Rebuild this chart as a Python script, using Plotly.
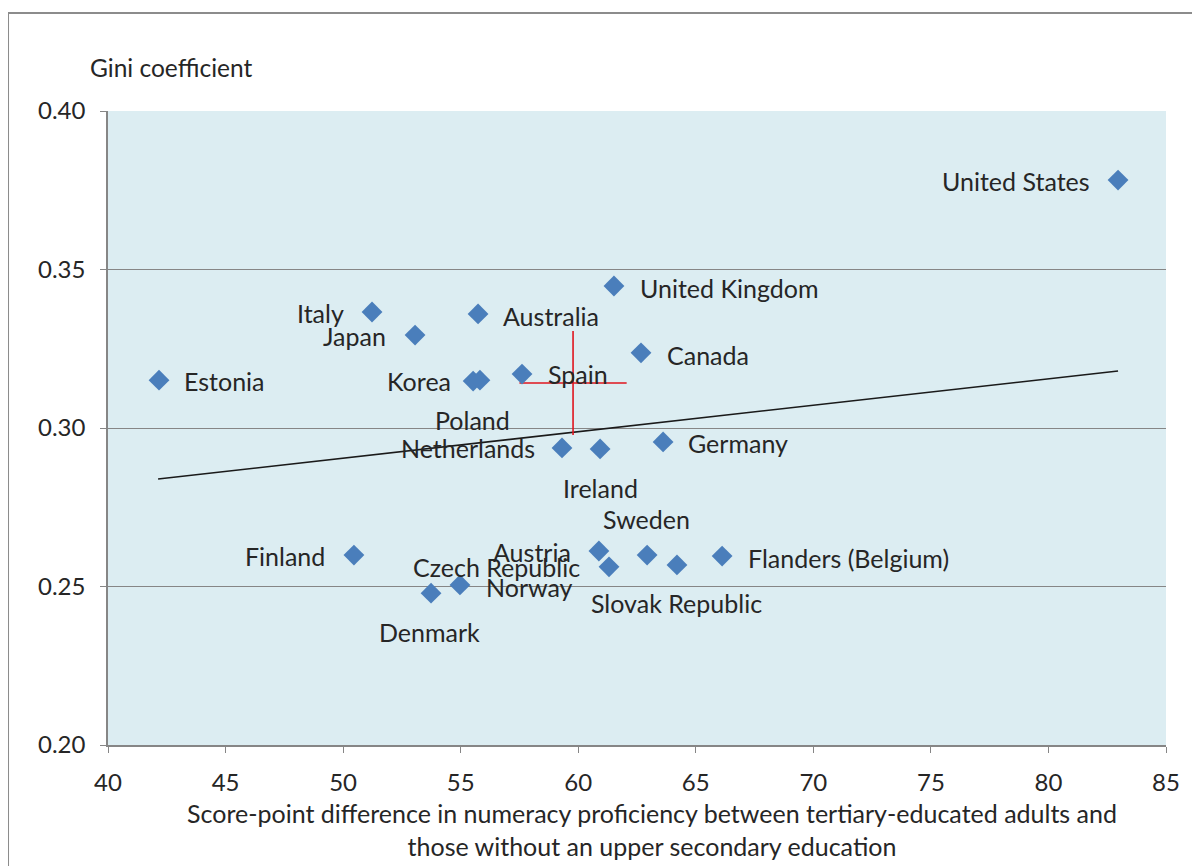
import plotly.graph_objects as go

countries = ["United States", "United Kingdom", "Italy", "Australia", "Japan", "Canada",
             "Estonia", "Korea", "Poland", "Spain", "Netherlands", "Ireland", "Germany",
             "Austria", "Czech Republic", "Sweden", "Slovak Republic", "Flanders (Belgium)",
             "Finland", "Denmark", "Norway"]
score_diff = [82.96, 61.52, 51.23, 55.74, 53.06, 62.67,
              42.17, 55.53, 55.82, 57.61, 59.31, 60.93, 63.61,
              60.88, 61.31, 62.93, 64.20, 66.12,
              50.46, 53.74, 54.97]
gini = [0.3782, 0.3448, 0.3366, 0.3360, 0.3293, 0.3237,
        0.3151, 0.3148, 0.3151, 0.3170, 0.2937, 0.2934, 0.2956,
        0.2612, 0.2562, 0.2599, 0.2568, 0.2596,
        0.2599, 0.2479, 0.2505]

trend_x = [42.13, 82.96]
trend_y = [0.2839, 0.3180]

cross_x = [59.78]
cross_y = [0.3142]
cross_err_x = [2.28]
cross_err_y = [0.0164]

x_ticks = [40, 45, 50, 55, 60, 65, 70, 75, 80, 85]
y_ticks = [0.20, 0.25, 0.30, 0.35, 0.40]

# label placement: (anchor, dx px, dy px down)
label_pos = [("right", -26, 1), ("left", 24, 2), ("right", -26, 1), ("left", 23, 2),
             ("right", -27, 1), ("left", 24, 2), ("left", 23, 1), ("right", -20, 0),
             ("center", -7, 40), ("left", 24, 0), ("right", -25, 0), ("center", 0, 39),
             ("left", 23, 1), ("right", -26, 1), ("right", -27, 0), ("center", -1, -36),
             ("center", 0, 38), ("left", 24, 2), ("right", -27, 1), ("center", -2, 39),
             ("left", 24, 2)]

FONT = "Lato"
TXT = "#262626"
GRID = "#868686"

fig = go.Figure()
fig.add_trace(go.Scatter(x=trend_x, y=trend_y, mode="lines",
                         line=dict(color="#1a1a1a", width=1.6), hoverinfo="skip"))
fig.add_trace(go.Scatter(x=cross_x, y=cross_y, mode="markers",
                         marker=dict(size=1, color="rgba(0,0,0,0)"),
                         error_x=dict(type="data", array=cross_err_x, color="#e0141e", thickness=1.6, width=0),
                         error_y=dict(type="data", array=cross_err_y, color="#e0141e", thickness=1.6, width=0),
                         hoverinfo="skip"))
fig.add_trace(go.Scatter(x=score_diff, y=gini, mode="markers", text=countries,
                         marker=dict(symbol="diamond", size=16, color="#4a7ebb",
                                     line=dict(width=0))))

for c, xv, yv, (anc, dx, dy) in zip(countries, score_diff, gini, label_pos):
    fig.add_annotation(x=xv, y=yv, xref="x", yref="y", text=c, showarrow=False,
                       xanchor=anc, yanchor="middle", xshift=dx, yshift=-dy,
                       font=dict(family=FONT, size=25, color=TXT))

fig.add_annotation(x=-0.0189, y=1.069, xref="paper", yref="paper", text="Gini coefficient",
                   showarrow=False, xanchor="left", yanchor="middle",
                   font=dict(family=FONT, size=24.5, color=TXT))
fig.add_annotation(x=0.514, y=-0.134, xref="paper", yref="paper",
                   text="Score-point difference in numeracy proficiency between tertiary-educated adults and<br>those without an upper secondary education",
                   showarrow=False, xanchor="center", yanchor="middle",
                   font=dict(family=FONT, size=25, color=TXT))

fig.add_shape(type="rect", xref="paper", yref="paper", x0=-0.0945, x1=1.2, y0=-0.5, y1=1.1546,
              line=dict(color="#8c8c8c", width=2), fillcolor="rgba(0,0,0,0)", layer="below")

fig.update_layout(
    width=1192, height=858,
    margin=dict(l=100, r=34, t=103, b=121),
    paper_bgcolor="white", plot_bgcolor="#dcedf2",
    showlegend=False,
    font=dict(family=FONT, color=TXT),
    xaxis=dict(range=[40, 85], tickvals=x_ticks, showgrid=False, zeroline=False,
               showline=True, linecolor=GRID, linewidth=1.5, ticks="outside", ticklen=6,
               tickcolor=GRID, ticklabelstandoff=9,
               tickfont=dict(family=FONT, size=24, color=TXT)),
    yaxis=dict(range=[0.2, 0.4], tickvals=y_ticks, tickformat=".2f", showgrid=True,
               gridcolor=GRID, gridwidth=1.2, zeroline=False,
               showline=True, linecolor=GRID, linewidth=1.5, ticks="outside", ticklen=6,
               tickcolor=GRID, ticklabelstandoff=10,
               tickfont=dict(family=FONT, size=24, color=TXT)),
)

fig.write_html("out.html")
